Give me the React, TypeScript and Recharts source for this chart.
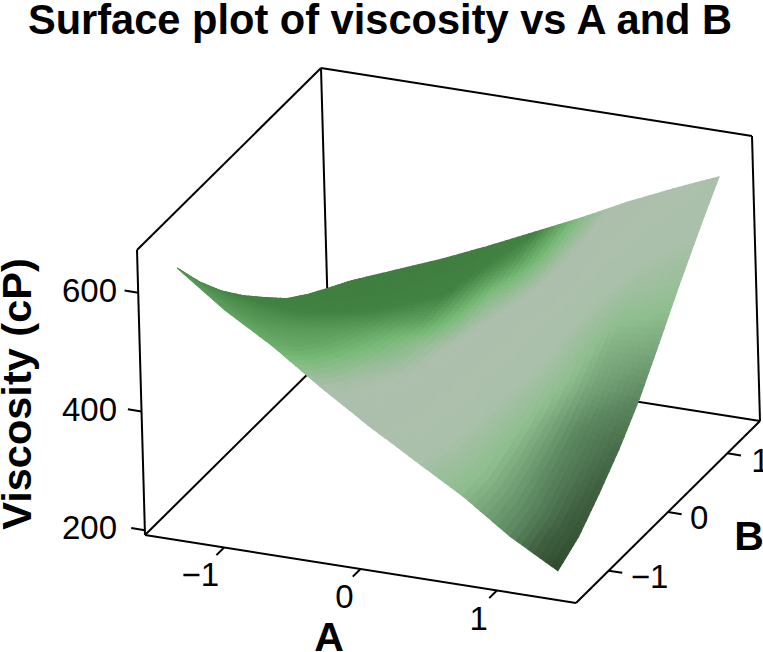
import React from 'react';
import { ComposedChart, Scatter, XAxis, YAxis, Customized } from 'recharts';

const WIDTH = 763;
const HEIGHT = 652;
const FONT = '"Liberation Sans", Arial, sans-serif';

// Coded factor levels of the fitted surface
const levelsA = [-1.35, -1.0075, -0.665, -0.3225, 0.02, 0.3625, 0.705, 1.0475, 1.39];
const levelsB = [-1.41, -1.0575, -0.705, -0.3525, 0, 0.3525, 0.705, 1.0575, 1.41];

// Viscosity (cP): one row per level of B, one column per level of A
const viscosityRow0 = [636, 578, 530, 474, 422, 374, 327, 271, 226];
const viscosityRow1 = [578, 532, 492, 447, 405, 366, 329, 284, 248];
const viscosityRow2 = [528, 492, 463, 429, 398, 370, 345, 310, 285];
const viscosityRow3 = [485, 459, 441, 418, 397, 381, 365, 341, 326];
const viscosityRow4 = [447, 433, 424, 412, 402, 397, 393, 380, 375];
const viscosityRow5 = [410, 410, 412, 412, 415, 421, 428, 428, 435];
const viscosityRow6 = [382, 392, 405, 418, 432, 449, 468, 478, 497];
const viscosityRow7 = [358, 379, 401, 425, 451, 477, 505, 530, 555];
const viscosityRow8 = [335, 366, 397, 431, 467, 503, 542, 577, 610];
const viscosity = [viscosityRow0, viscosityRow1, viscosityRow2, viscosityRow3, viscosityRow4, viscosityRow5, viscosityRow6, viscosityRow7, viscosityRow8];

// Surface lighting, same layout as viscosity
const lightRow0 = [0.83, 0.8, 0.76, 0.63, 0.57, 0.5, 0.41, 0.3, 0.0];
const lightRow1 = [0.85, 0.82, 0.77, 0.64, 0.58, 0.51, 0.42, 0.3, 0.08];
const lightRow2 = [0.87, 0.83, 0.78, 0.65, 0.58, 0.52, 0.43, 0.3, 0.14];
const lightRow3 = [0.89, 0.85, 0.79, 0.68, 0.59, 0.53, 0.45, 0.31, 0.2];
const lightRow4 = [0.91, 0.88, 0.82, 0.71, 0.6, 0.54, 0.48, 0.36, 0.3];
const lightRow5 = [0.92, 0.92, 0.87, 0.8, 0.64, 0.55, 0.5, 0.4, 0.38];
const lightRow6 = [0.92, 0.93, 0.92, 0.88, 0.7, 0.61, 0.53, 0.47, 0.45];
const lightRow7 = [0.92, 0.93, 0.93, 0.92, 0.82, 0.66, 0.55, 0.52, 0.5];
const lightRow8 = [0.92, 0.93, 0.93, 0.93, 0.89, 0.7, 0.58, 0.56, 0.53];
const light = [lightRow0, lightRow1, lightRow2, lightRow3, lightRow4, lightRow5, lightRow6, lightRow7, lightRow8];

const ticksA = [-1, 0, 1];
const ticksB = [-1, 0, 1];
const ticksV = [200, 400, 600];

// Box limits
const A_MIN = -1.58, A_MAX = 1.58;
const B_MIN = -1.55, B_MAX = 1.55;
const V_MIN = 192, V_MAX = 672;

// Orthographic view of the box
const ORIGIN = { x: 145, y: 535 };
const AXIS_A = { x: 431, y: 68 };
const AXIS_B = { x: 184, y: -182 };
const AXIS_V = { x: -8, y: -285 };

function project(a: number, b: number, v: number) {
  const u = (a - A_MIN) / (A_MAX - A_MIN);
  const w = (b - B_MIN) / (B_MAX - B_MIN);
  const h = (v - V_MIN) / (V_MAX - V_MIN);
  return {
    x: ORIGIN.x + u * AXIS_A.x + w * AXIS_B.x + h * AXIS_V.x,
    y: ORIGIN.y + u * AXIS_A.y + w * AXIS_B.y + h * AXIS_V.y,
  };
}

const palette: [number, number[]][] = [
  [0, [47, 74, 46]],
  [0.15, [63, 95, 64]],
  [0.3, [92, 135, 96]],
  [0.42, [143, 190, 143]],
  [0.5, [171, 192, 171]],
  [0.62, [173, 191, 173]],
  [0.72, [122, 187, 122]],
  [0.88, [66, 130, 66]],
  [1, [62, 123, 64]],
];

function shade(t: number) {
  for (let i = 1; i < palette.length; i++) {
    if (t <= palette[i][0]) {
      const [t0, c0] = palette[i - 1];
      const [t1, c1] = palette[i];
      const f = (t - t0) / (t1 - t0);
      return `rgb(${c0.map((c, k) => Math.round(c + (c1[k] - c) * f)).join(',')})`;
    }
  }
  return 'rgb(62,123,64)';
}

const SUB = 8;

function sample(grid: number[][], j: number, i: number, fj: number, fi: number) {
  const j1 = Math.min(j + 1, grid.length - 1);
  const i1 = Math.min(i + 1, grid[0].length - 1);
  return (
    (1 - fj) * ((1 - fi) * grid[j][i] + fi * grid[j][i1]) +
    fj * ((1 - fi) * grid[j1][i] + fi * grid[j1][i1])
  );
}

function meshPoint(j: number, i: number, fj: number, fi: number) {
  const a = levelsA[i] + (levelsA[Math.min(i + 1, 8)] - levelsA[i]) * fi;
  const b = levelsB[j] + (levelsB[Math.min(j + 1, 8)] - levelsB[j]) * fj;
  return project(a, b, sample(viscosity, j, i, fj, fi));
}

type Cell = { x: number; y: number; pts: { x: number; y: number }[]; fill: string };

function buildCells() {
  const cells: Cell[] = [];
  for (let j = levelsB.length - 2; j >= 0; j--) {
    for (let sj = SUB - 1; sj >= 0; sj--) {
      for (let i = 0; i < levelsA.length - 1; i++) {
        for (let si = 0; si < SUB; si++) {
          const f0 = si / SUB, f1 = (si + 1) / SUB, g0 = sj / SUB, g1 = (sj + 1) / SUB;
          const pts = [
            meshPoint(j, i, g0, f0),
            meshPoint(j, i, g0, f1),
            meshPoint(j, i, g1, f1),
            meshPoint(j, i, g1, f0),
          ];
          const x = pts.reduce((s, p) => s + p.x, 0) / 4;
          const y = pts.reduce((s, p) => s + p.y, 0) / 4;
          cells.push({ x, y, pts, fill: shade(sample(light, j, i, (g0 + g1) / 2, (f0 + f1) / 2)) });
        }
      }
    }
  }
  return cells;
}

const cells = buildCells();

const MeshCell = (props: any) => {
  const { cx, cy, payload } = props;
  const d = payload.pts
    .map((p: any, k: number) => `${k ? 'L' : 'M'}${(cx + p.x - payload.x).toFixed(2)} ${(cy + p.y - payload.y).toFixed(2)}`)
    .join(' ') + 'Z';
  return <path d={d} fill={payload.fill} stroke={payload.fill} strokeWidth={1.3} />;
};

const NoDot = () => null;

const seg = (p: [number, number, number], q: [number, number, number]) => [project(...p), project(...q)];

const backEdges = [
  seg([A_MIN, B_MIN, V_MIN], [A_MIN, B_MAX, V_MIN]),
  seg([A_MIN, B_MAX, V_MIN], [A_MAX, B_MAX, V_MIN]),
  seg([A_MIN, B_MAX, V_MIN], [A_MIN, B_MAX, V_MAX]),
  seg([A_MIN, B_MAX, V_MAX], [A_MIN, B_MIN, V_MAX]),
  seg([A_MIN, B_MAX, V_MAX], [A_MAX, B_MAX, V_MAX]),
];

const frontEdges = [
  seg([A_MIN, B_MIN, V_MIN], [A_MIN, B_MIN, V_MAX]),
  seg([A_MAX, B_MAX, V_MIN], [A_MAX, B_MAX, V_MAX]),
  seg([A_MIN, B_MIN, V_MIN], [A_MAX, B_MIN, V_MIN]),
  seg([A_MAX, B_MIN, V_MIN], [A_MAX, B_MAX, V_MIN]),
];

const tickSegs = [
  ...ticksA.map((t) => seg([t, B_MIN, V_MIN], [t, B_MIN - 0.13, V_MIN])),
  ...ticksB.map((t) => seg([A_MAX, t, V_MIN], [A_MAX + 0.1, t, V_MIN])),
  ...ticksV.map((t) => seg([A_MIN, B_MIN, t], [A_MIN - 0.1, B_MIN, t])),
];

const fmt = (t: number) => (t < 0 ? `\u2212${Math.abs(t)}` : String(t));

const tickLabels = [
  ...ticksA.map((t) => {
    const p = project(t, B_MIN, V_MIN);
    return { x: p.x - (t < 0 ? 5 : t === 0 ? 7 : 9), y: p.y + 39, text: fmt(t), anchor: 'end' };
  }),
  ...ticksB.map((t) => {
    const p = project(A_MAX, t, V_MIN);
    return { x: p.x + (t > 0 ? 24 : 22), y: p.y + (t > 0 ? 19 : 17), text: fmt(t), anchor: 'start' };
  }),
  ...ticksV.map((t) => {
    const p = project(A_MIN, B_MIN, t);
    return { x: 117, y: p.y + 9, text: fmt(t), anchor: 'end' };
  }),
];

const TickLabel = (props: any) => (
  <text x={props.cx} y={props.cy} textAnchor={props.payload.anchor} fontFamily={FONT} fontSize={33} fill="#000">
    {props.payload.text}
  </text>
);

const Titles = () => (
  <g fontFamily={FONT} fontWeight="bold" fill="#000">
    <text x={380} y={34} textAnchor="middle" fontSize={41.6}>Surface plot of viscosity vs A and B</text>
    <text x={329} y={651} textAnchor="middle" fontSize={41}>A</text>
    <text x={749} y={550} textAnchor="middle" fontSize={41}>B</text>
    <text transform="translate(31,394) rotate(-90)" textAnchor="middle" fontSize={41.5}>Viscosity (cP)</text>
  </g>
);

const line = { stroke: '#000', strokeWidth: 2 };

export default function App() {
  return (
    <div style={{ position: 'absolute', left: 0, top: 0, width: WIDTH, height: HEIGHT, background: '#fff' }}>
      <ComposedChart width={WIDTH} height={HEIGHT} margin={{ top: 0, right: 0, bottom: 0, left: 0 }}>
        <XAxis type="number" dataKey="x" domain={[0, WIDTH]} hide allowDataOverflow />
        <YAxis type="number" dataKey="y" domain={[0, HEIGHT]} reversed hide allowDataOverflow />
        {backEdges.map((d, k) => (
          <Scatter key={`b${k}`} data={d} line={line} shape={NoDot} isAnimationActive={false} />
        ))}
        <Scatter data={cells} shape={MeshCell} isAnimationActive={false} />
        {frontEdges.map((d, k) => (
          <Scatter key={`f${k}`} data={d} line={line} shape={NoDot} isAnimationActive={false} />
        ))}
        {tickSegs.map((d, k) => (
          <Scatter key={`t${k}`} data={d} line={line} shape={NoDot} isAnimationActive={false} />
        ))}
        <Scatter data={tickLabels} shape={TickLabel} isAnimationActive={false} />
        <Customized component={Titles} />
      </ComposedChart>
    </div>
  );
}
